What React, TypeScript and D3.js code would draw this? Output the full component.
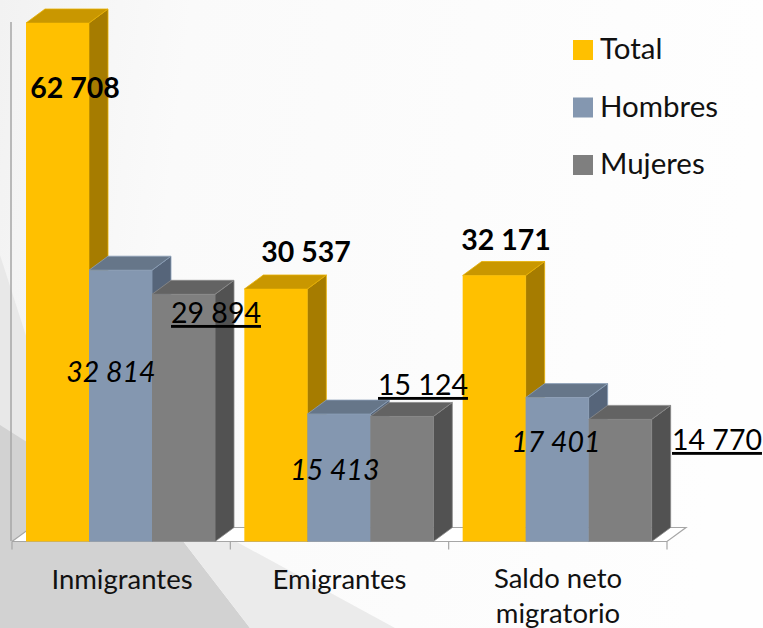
import React from "react";
import * as d3 from "d3";

const categories = ["Inmigrantes", "Emigrantes", "Saldo neto migratorio"];
const series = ["Total", "Hombres", "Mujeres"];
const total = [62708, 30537, 32171];
const hombres = [32814, 15413, 17401];
const mujeres = [29894, 15124, 14770];
const values = [total, hombres, mujeres];
const fmt = (v: number) => d3.format(",")(v).replace(",", " ");

const width = 763;
const height = 628;
const font = "Lato, Carlito, Calibri, sans-serif";
const depthX = 19;
const depthY = 14;

const faceColors = ["#ffc000", "#8497b0", "#7f7f7f"];
const topColors = ["#c99700", "#667689", "#636363"];
const sideColors = ["#a67c00", "#56657a", "#525252"];
const edgeColors = ["#e8b000", "#8ba0b8", "#8a8a8a"];

const x0 = d3.scaleBand().domain(categories).range([12, 667]);
const x1 = d3.scaleBand().domain(series).range([14, 203]);
const y = d3.scaleLinear().domain([0, 62708]).range([541.5, 23]);

const labelStyle = [
  { weight: 700, style: "normal", underline: false },
  { weight: 400, style: "italic", underline: false },
  { weight: 400, style: "normal", underline: true },
];
// hand placed label centres, one row per series
const labelX = [
  [75, 306, 506],
  [111, 335, 556],
  [216, 423, 717],
];
const labelY = [
  [88, 252, 240],
  [372, 470, 442],
  [313, 385, 440],
];

const App = () => {
  const axisRef = React.useRef<SVGGElement>(null);

  React.useEffect(() => {
    const g = d3.select(axisRef.current);
    g.selectAll("*").remove();
    const ticks = [...categories.map((c) => x0(c) as number), 667];
    g.selectAll("line.tick")
      .data(ticks)
      .enter()
      .append("line")
      .attr("x1", (d) => d)
      .attr("x2", (d) => d)
      .attr("y1", y(0))
      .attr("y2", y(0) + 8)
      .attr("stroke", "#a6a6a6")
      .attr("stroke-width", 1.2);
  }, []);

  const line = d3.line();

  return (
    <svg
      width={width}
      height={height}
      style={{ position: "absolute", left: 0, top: 0, background: "#fff" }}
    >
      <defs>
        <linearGradient id="bgLeft" x1="0" y1="0" x2="1" y2="0.1">
          <stop offset="0" stopColor="#f2f2f2" />
          <stop offset="0.25" stopColor="#fafafa" />
          <stop offset="1" stopColor="#fefefe" />
        </linearGradient>
      </defs>

      {/* backdrop */}
      <rect width={width} height={height} fill="url(#bgLeft)" />
      <path d={line([[0, 255], [120, 628], [0, 628]]) as string} fill="#e8e8e8" />
      <path d={line([[0, 425], [183, 541], [250, 628], [0, 628]]) as string} fill="#d2d2d2" />
      <path d={line([[183, 541], [235, 541], [395, 628], [250, 628]]) as string} fill="#ebebeb" />

      {/* walls and floor */}
      <path
        d={line([[12, 541.5], [31, 527.5], [686, 527.5], [667, 541.5], [12, 541.5]]) as string}
        fill="#ffffff"
        stroke="#a6a6a6"
        strokeWidth={1.2}
      />
      <line x1={11} x2={11} y1={22} y2={541} stroke="#a6a6a6" strokeWidth={1.5} />

      {/* bars */}
      {categories.map((c, i) => (
        <g key={c} transform={`translate(${x0(c)},0)`}>
          {series.map((s, k) => {
            const bx = x1(s) as number;
            const bw = x1.bandwidth();
            const top = y(values[k][i]);
            const bottom = y(0);
            return (
              <g key={s}>
                <path
                  d={line([[bx + bw, top], [bx + bw + depthX, top - depthY], [bx + bw + depthX, bottom - depthY], [bx + bw, bottom]]) + "Z"}
                  fill={sideColors[k]}
                  stroke={edgeColors[k]}
                  strokeWidth={0.8}
                />
                <path
                  d={line([[bx, top], [bx + depthX, top - depthY], [bx + bw + depthX, top - depthY], [bx + bw, top]]) + "Z"}
                  fill={topColors[k]}
                  stroke={edgeColors[k]}
                  strokeWidth={0.8}
                />
                <rect x={bx} y={top} width={bw} height={bottom - top} fill={faceColors[k]} />
              </g>
            );
          })}
        </g>
      ))}

      <g ref={axisRef} />

      {/* value labels */}
      {series.map((s, k) =>
        categories.map((c, i) => (
          <text
            key={s + c}
            x={labelX[k][i]}
            y={labelY[k][i]}
            dy="0.35em"
            textAnchor="middle"
            fontFamily={font}
            fontSize={28.5}
            fontWeight={labelStyle[k].weight}
            fontStyle={labelStyle[k].style}
            textDecoration={labelStyle[k].underline ? "underline" : undefined}
            fill="#000"
          >
            {fmt(values[k][i])}
          </text>
        ))
      )}

      {/* category labels */}
      <text x={122} y={589} textAnchor="middle" fontFamily={font} fontSize={27.5} fill="#111">Inmigrantes</text>
      <text x={339.5} y={589} textAnchor="middle" fontFamily={font} fontSize={27.5} fill="#111">Emigrantes</text>
      <text x={558} y={588} textAnchor="middle" fontFamily={font} fontSize={27.5} fill="#111">
        <tspan x={558}>Saldo neto</tspan>
        <tspan x={558} dy={34.5}>migratorio</tspan>
      </text>

      {/* legend */}
      {series.map((s, k) => (
        <g key={s} transform={`translate(573,${40 + k * 57.5})`}>
          <rect width={20} height={20} fill={faceColors[k]} />
          <text x={27} y={19} fontFamily={font} fontSize={29.5} fill="#111">{s}</text>
        </g>
      ))}
    </svg>
  );
};

export default App;
